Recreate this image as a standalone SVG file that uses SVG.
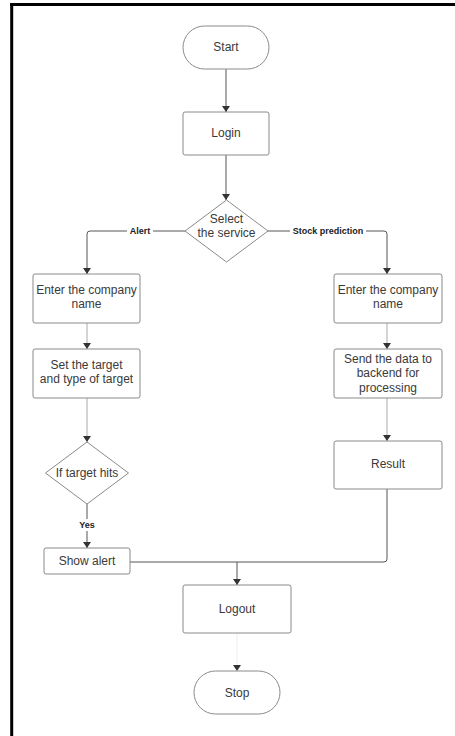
<svg xmlns="http://www.w3.org/2000/svg" width="455" height="736" viewBox="0 0 455 736">
<style>
.n{fill:#fff;stroke:#8a8a8a;stroke-width:1}
.t{font-family:"Liberation Sans",Arial,sans-serif;font-size:12px;fill:#3a3a3a;text-anchor:middle}
.l{font-family:"Liberation Sans",Arial,sans-serif;font-size:9px;font-weight:bold;fill:#222;text-anchor:middle}
.c{fill:none;stroke:#555;stroke-width:1}
.cl{fill:none;stroke:#aaa;stroke-width:1}
.lb{fill:#fff}
</style>
<defs>
<marker id="a" viewBox="0 0 6 8" refX="6" refY="4" markerWidth="6" markerHeight="8" markerUnits="userSpaceOnUse" orient="auto">
<path d="M0,0 L6,4 L0,8 Z" fill="#333"/>
</marker>
</defs>
<rect width="455" height="736" fill="#fff"/>
<line x1="10" y1="4.5" x2="455" y2="4.5" stroke="#000" stroke-width="3"/>
<line x1="11.7" y1="3" x2="11.7" y2="736" stroke="#000" stroke-width="3"/>
<g id="connectors">
<path class="c" d="M226,69 V112" marker-end="url(#a)"/>
<path class="c" d="M226,155 V200" marker-end="url(#a)"/>
<path class="c" d="M185,231 H90 Q87,231 87,234 V274" marker-end="url(#a)"/>
<path class="c" d="M268,231 H384 Q387,231 387,234 V274" marker-end="url(#a)"/>
<path class="cl" d="M87,323 V349" marker-end="url(#a)"/>
<path class="cl" d="M387,323 V349" marker-end="url(#a)"/>
<path class="cl" d="M87,398 V442" marker-end="url(#a)"/>
<path class="cl" d="M387,398 V441" marker-end="url(#a)"/>
<path class="c" d="M87,504 V548" marker-end="url(#a)"/>
<path class="c" d="M387,489 V559 Q387,562 384,562 H130"/>
<path class="c" d="M237,562 V585" marker-end="url(#a)"/>
<path d="M237,633 V671" stroke="#eee" stroke-width="1" fill="none" marker-end="url(#a)"/>
<rect class="lb" x="127" y="225" width="26" height="12"/>
<text class="l" x="140" y="234">Alert</text>
<rect class="lb" x="290" y="225" width="76" height="12"/>
<text class="l" x="328" y="234">Stock prediction</text>
<rect class="lb" x="76" y="519" width="22" height="12"/>
<text class="l" x="87" y="528">Yes</text>
</g>
<g id="start">
<rect class="n" x="183" y="26" width="86" height="43" rx="21.5"/>
<text class="t" x="226" y="51">Start</text>
</g>
<g id="login">
<rect class="n" x="183" y="112" width="86" height="43" rx="2"/>
<text class="t" x="226" y="137">Login</text>
</g>
<g id="select">
<polygon class="n" points="226.5,200 268,231 226.5,262 185,231"/>
<text class="t" x="226.5" y="223">Select</text>
<text class="t" x="226.5" y="237">the service</text>
</g>
<g id="enterL">
<rect class="n" x="33" y="274" width="107" height="49" rx="2"/>
<text class="t" x="86.5" y="294">Enter the company</text>
<text class="t" x="86.5" y="308">name</text>
</g>
<g id="enterR">
<rect class="n" x="334" y="274" width="108" height="49" rx="2"/>
<text class="t" x="388" y="294">Enter the company</text>
<text class="t" x="388" y="308">name</text>
</g>
<g id="setTarget">
<rect class="n" x="33" y="349" width="107" height="49" rx="2"/>
<text class="t" x="86.5" y="369">Set the target</text>
<text class="t" x="86.5" y="383">and type of target</text>
</g>
<g id="send">
<rect class="n" x="334" y="349" width="108" height="49" rx="2"/>
<text class="t" x="388" y="363">Send the data to</text>
<text class="t" x="388" y="377">backend for</text>
<text class="t" x="388" y="392">processing</text>
</g>
<g id="ifHits">
<polygon class="n" points="87,442 128.5,473 87,504 45.5,473"/>
<text class="t" x="87" y="477">If target hits</text>
</g>
<g id="result">
<rect class="n" x="334" y="441" width="108" height="48" rx="2"/>
<text class="t" x="388" y="468">Result</text>
</g>
<g id="showAlert">
<rect class="n" x="44" y="548" width="86" height="26" rx="2"/>
<text class="t" x="87" y="565">Show alert</text>
</g>
<g id="logout">
<rect class="n" x="183" y="585" width="108" height="48" rx="2"/>
<text class="t" x="237" y="613">Logout</text>
</g>
<g id="stop">
<rect class="n" x="194" y="671" width="86" height="43" rx="21.5"/>
<text class="t" x="237" y="697">Stop</text>
</g>
</svg>
